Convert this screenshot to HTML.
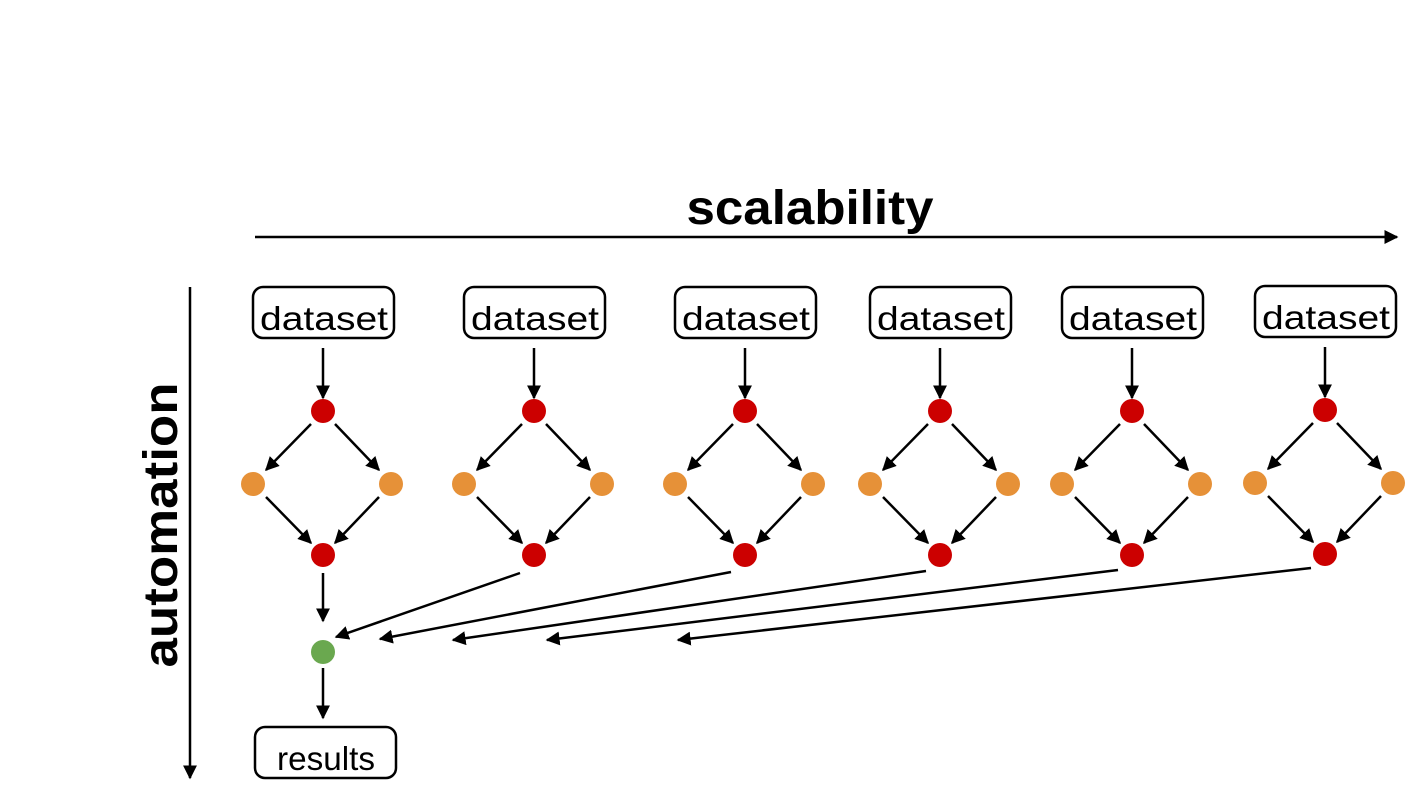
<!DOCTYPE html>
<html><head><meta charset="utf-8"><style>
html,body{margin:0;padding:0;background:#fff;width:1405px;height:785px;overflow:hidden}
svg{display:block}
text{font-family:"Liberation Sans",sans-serif;fill:#000}
</style></head><body>
<svg id="s" width="1405" height="785" viewBox="0 0 1405 785">
<defs><marker id="ah" viewBox="0 0 10 10" refX="9" refY="5" markerWidth="5.6" markerHeight="5.6" orient="auto"><path d="M0,0 L10,5 L0,10 z" fill="#000"/></marker></defs>
<text x="810" y="224" text-anchor="middle" font-size="48" font-weight="bold" textLength="247" lengthAdjust="spacingAndGlyphs">scalability</text>
<line x1="255" y1="237" x2="1397" y2="237" stroke="#000" stroke-width="2.5" marker-end="url(#ah)"/>
<text transform="translate(177,525) rotate(-90)" text-anchor="middle" font-size="48" font-weight="bold" textLength="285" lengthAdjust="spacingAndGlyphs">automation</text>
<line x1="190" y1="287" x2="190" y2="778" stroke="#000" stroke-width="2.5" marker-end="url(#ah)"/>
<g id="g"></g>
</svg>
<script>
const cols=[323,534,745,940,1132,1325];
const tops=[287,287,287,287,287,286];
const targets=[null,[336,637],[380,639],[453,640],[547,640],[678,640]];
const NS="http://www.w3.org/2000/svg";
const g=document.getElementById('g');
function mk(t,a){const e=document.createElementNS(NS,t);for(const k in a)e.setAttribute(k,a[k]);g.appendChild(e);return e;}
function arrow(x1,y1,x2,y2){const e=mk('line',{x1,y1,x2,y2,stroke:'#000','stroke-width':2.5,'marker-end':'url(#ah)'});

}
function dot(cx,cy,fill,name){const e=mk('circle',{cx,cy,r:12,fill});

}
function box(cx,y,label,name,w){const r=mk('rect',{x:cx-70,y,width:141,height:51,rx:10,fill:'#fff',stroke:'#000','stroke-width':2.5});


const t=mk('text',{x:cx+1,y:y+43,'text-anchor':'middle','font-size':33,textLength:w,lengthAdjust:'spacingAndGlyphs'});t.textContent=label;

}
cols.forEach((c,i)=>{
 const t=tops[i], d=(t-287);
 box(c,t,'dataset','dataset-box',128);
 const yr=411+d, yo=484+d, yb=555+d;
 arrow(c,348+d,c,398+d);
 dot(c,yr,'#cc0000','split-node');
 dot(c-70,yo,'#e69138','task-node');
 dot(c+68,yo,'#e69138','task-node');
 dot(c,yb,'#cc0000','merge-node');
 arrow(c-12,yr+13,c-57,yo-14);
 arrow(c+12,yr+13,c+56,yo-14);
 arrow(c-57,yo+13,c-12,yb-12);
 arrow(c+56,yo+13,c+12,yb-12);
 if(i>0){arrow(c-14,yb+18+(i-1)*-1,targets[i][0],targets[i][1]);}
});
arrow(323,573,323,621);
dot(323,652,'#6aa84f','aggregate-node');
arrow(323,668,323,718);
box(325,727,'results','results-box',98);
</script>
</body></html>
